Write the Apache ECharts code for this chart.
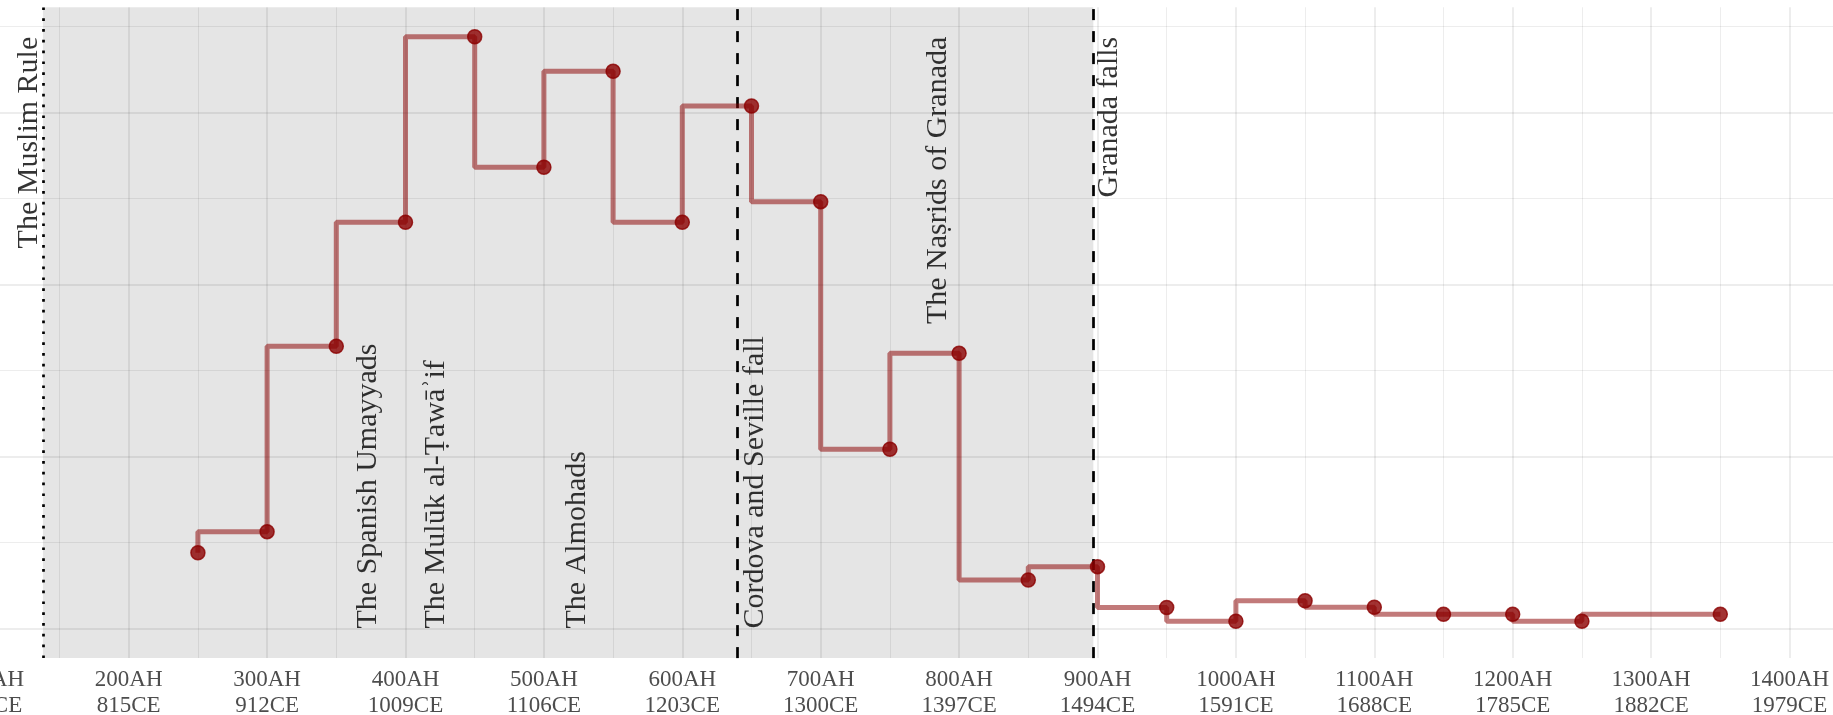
<!DOCTYPE html>
<html>
<head>
<meta charset="utf-8">
<script src="https://cdn.jsdelivr.net/npm/echarts@6/dist/echarts.min.js"></script>
<style>html,body{margin:0;padding:0;background:#fff}#c{width:1833px;height:715px}</style>
</head>
<body>
<div id="c"></div>
<script>
// ---- data ----
const ahYears = [250,300,350,400,450,500,550,600,650,700,750,800,850,900,950,1000,1050,1100,1150,1200,1250,1350];
const values  = [8.81,11.26,32.81,47.24,68.81,53.63,64.79,47.23,60.76,49.63,20.84,32.0,5.64,7.19,2.44,0.84,3.23,2.47,1.65,1.65,0.84,1.65];
const tickAH = [100,200,300,400,500,600,700,800,900,1000,1100,1200,1300,1400];
const tickCE = [718,815,912,1009,1106,1203,1300,1397,1494,1591,1688,1785,1882,1979];
const yMajor = [0,20,40,60];
const yMinor = [10,30,50,70];
const muslimRuleStart = 138;
const cordovaSevilleFall = 640;
const granadaFalls = 897;
const annotTexts = ['The Muslim Rule','The Spanish Umayyads','The Mulūk al-Ṭawāʾif','The Almohads','Cordova and Seville fall','The Naṣrids of Granada','Granada falls'];
const annotX = [128, 373, 422, 524, 652.5, 785, 908.3];
const annotY = [68.81, 0, 0, 0, 0, 68.81, 68.81];
const annotFromTop = [true, false, false, false, false, true, true];

// ---- chart ----
const FONT = "'Liberation Serif','DejaVu Serif',serif";
const GRID_COL = 'rgba(0,0,0,0.072)';
const chart = echarts.init(document.getElementById('c'), null, {renderer: 'canvas'});

const gridLines = yMajor.map(v => ({yAxis: v, lineStyle: {width: 2, color: GRID_COL, type: 'solid'}}))
  .concat(yMinor.map(v => ({yAxis: v, lineStyle: {width: 1.1, color: GRID_COL, type: 'solid'}})));

const option = {
  animation: false,
  backgroundColor: '#ffffff',
  grid: {left: -9.7, right: -94.9, top: 7.15, bottom: 56.9, containLabel: false, outerBoundsMode: 'none'},
  xAxis: {
    type: 'value', min: 100, max: 1500, interval: 100,
    axisLine: {show: false}, axisTick: {show: false},
    axisLabel: {
      show: true, showMinLabel: true, showMaxLabel: false, hideOverlap: false,
      margin: 9, color: '#4D4D4D', fontFamily: FONT, fontSize: 23, lineHeight: 26,
      formatter: v => { const i = tickAH.indexOf(v); return i < 0 ? '' : tickAH[i] + 'AH\n' + tickCE[i] + 'CE'; }
    },
    splitLine: {show: true, lineStyle: {color: GRID_COL, width: 2}},
    minorTick: {show: false, splitNumber: 2},
    minorSplitLine: {show: true, lineStyle: {color: GRID_COL, width: 1.1}}
  },
  yAxis: {type: 'value', min: -3.44, max: 72.25, show: false, splitLine: {show: false}},
  series: [
    {
      type: 'line', data: [], silent: true, z: 1,
      markLine: {silent: true, symbol: ['none','none'], label: {show: false}, z: 1, data: gridLines},
      markArea: {silent: true, z: 1, itemStyle: {color: 'rgba(0,0,0,0.1)'}, data: [[{xAxis: muslimRuleStart}, {xAxis: granadaFalls}]]}
    },
    {
      type: 'line', data: [], silent: true, z: 2,
      markLine: {
        silent: true, symbol: ['none','none'], label: {show: false}, z: 2,
        data: [
          {xAxis: muslimRuleStart, lineStyle: {color: '#000', width: 2.7, type: [2.7, 8.1]}},
          {xAxis: cordovaSevilleFall, lineStyle: {color: '#000', width: 2.7, type: [11, 11]}},
          {xAxis: granadaFalls, lineStyle: {color: '#000', width: 2.7, type: [11, 11]}}
        ]
      }
    },
    {
      type: 'line', step: 'start', z: 3,
      data: ahYears.map((x, i) => [x, values[i]]),
      symbol: 'circle', symbolSize: 14, showAllSymbol: true,
      lineStyle: {color: 'rgba(139,0,0,0.52)', width: 5},
      itemStyle: {color: 'rgba(139,0,0,0.8)', borderColor: 'rgba(139,0,0,0.8)', borderWidth: 1.5}
    },
    {
      type: 'scatter', z: 5, silent: true, symbolSize: 1,
      itemStyle: {color: 'rgba(0,0,0,0)'},
      data: annotTexts.map((t, i) => ({
        value: [annotX[i], annotY[i]],
        label: {
          show: true, position: 'inside', rotate: 90, formatter: t,
          align: annotFromTop[i] ? 'right' : 'left', verticalAlign: 'middle',
          color: '#000', fontFamily: FONT, fontSize: 30, textBorderWidth: 0
        }
      }))
    }
  ]
};
chart.setOption(option);
</script>
</body>
</html>
